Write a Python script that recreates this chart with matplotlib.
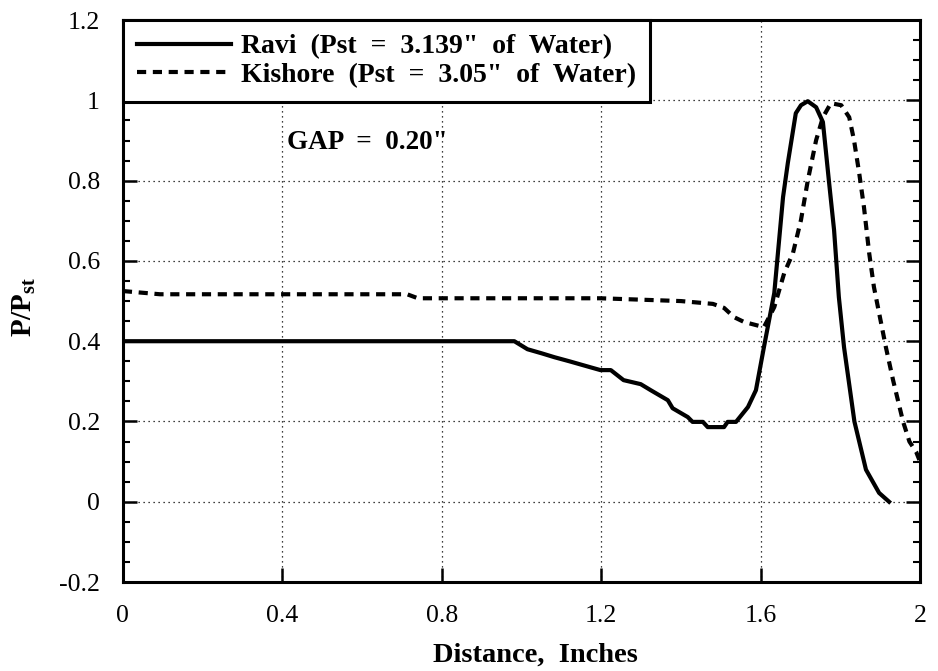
import matplotlib
matplotlib.use("Agg")
import matplotlib.pyplot as plt
from matplotlib.ticker import MultipleLocator

# Ravi (solid)
ravi_x = [0.0, 0.30, 0.60, 0.90, 0.982, 1.015, 1.05, 1.083, 1.12, 1.173, 1.198, 1.224, 1.256,
          1.299, 1.324, 1.367, 1.379, 1.417, 1.429, 1.455, 1.467, 1.508, 1.517, 1.538,
          1.568, 1.588, 1.608, 1.634, 1.656, 1.668, 1.688, 1.701, 1.718, 1.739, 1.756,
          1.771, 1.784, 1.796, 1.809, 1.835, 1.864, 1.897, 1.922]
ravi_y = [0.40, 0.40, 0.40, 0.40, 0.40, 0.38, 0.37, 0.36, 0.35, 0.335, 0.328, 0.328, 0.303,
          0.293, 0.278, 0.253, 0.233, 0.211, 0.199, 0.199, 0.186, 0.186, 0.199, 0.199,
          0.236, 0.278, 0.385, 0.52, 0.759, 0.844, 0.968, 0.988, 0.998, 0.983, 0.946,
          0.80, 0.677, 0.51, 0.385, 0.20, 0.08, 0.022, 0.0]

# Kishore (dotted)
kish_x = [0.0, 0.093, 0.30, 0.50, 0.713, 0.74, 1.0, 1.198, 1.40, 1.48, 1.508, 1.533, 1.558,
          1.608, 1.634, 1.659, 1.681, 1.701, 1.718, 1.739, 1.756, 1.776, 1.802, 1.822,
          1.834, 1.847, 1.859, 1.872, 1.884, 1.897, 1.914, 1.932, 1.957, 1.973, 1.99, 1.998]
kish_y = [0.525, 0.517, 0.517, 0.517, 0.517, 0.507, 0.507, 0.507, 0.50, 0.493, 0.483, 0.46,
          0.448, 0.435, 0.485, 0.57, 0.62, 0.702, 0.80, 0.901, 0.958, 0.993, 0.988, 0.958,
          0.901, 0.819, 0.734, 0.62, 0.535, 0.47, 0.385, 0.303, 0.20, 0.15, 0.124, 0.104]

ravi_label = 'Ravi  (Pst  =  3.139"  of  Water)'
kish_label = 'Kishore  (Pst  =  3.05"  of  Water)'
x_ticks = [0, 0.4, 0.8, 1.2, 1.6, 2]
x_ticklabels = ["0", "0.4", "0.8", "1.2", "1.6", "2"]
y_ticks = [-0.2, 0, 0.2, 0.4, 0.6, 0.8, 1.0, 1.2]
y_ticklabels = ["-0.2", "0", "0.2", "0.4", "0.6", "0.8", "1", "1.2"]

plt.rcParams['font.family'] = ['Liberation Serif', 'DejaVu Serif']
plt.rcParams['mathtext.fontset'] = 'custom'
plt.rcParams['mathtext.rm'] = 'Liberation Serif'
plt.rcParams['mathtext.bf'] = 'Liberation Serif:bold'
plt.rcParams['mathtext.it'] = 'Liberation Serif:italic'

fig = plt.figure(figsize=(9.38, 6.71), dpi=100)
ax = fig.add_axes([0.131, 0.1326, 0.850, 0.8374])

ax.plot(ravi_x, ravi_y, color='black', lw=3.0, label=ravi_label, solid_joinstyle='round')
ax.plot(kish_x, kish_y, color='black', lw=3.0, linestyle=(0, (2.2, 1.6)), label=kish_label)

ax.set_xlim(0, 2)
ax.set_ylim(-0.2, 1.2)
ax.set_xticks(x_ticks)
ax.set_xticklabels(x_ticklabels)
ax.set_yticks(y_ticks)
ax.set_yticklabels(y_ticklabels)
ax.yaxis.set_minor_locator(MultipleLocator(0.05))

ax.tick_params(axis='both', which='major', direction='in', length=10, width=1.8,
               labelsize=18.5, top=True, right=True, pad=16.5)
ax.tick_params(axis='y', which='minor', direction='in', length=5, width=1.5, right=True, left=True)
ax.tick_params(axis='x', which='major', top=False)

for s in ax.spines.values():
    s.set_linewidth(2.2)

ax.grid(True, which='major', linestyle=(0, (1, 3)), color='black', lw=0.9)

ax.set_xlabel('Distance,  Inches', fontsize=20.5, fontweight='bold')
ax.xaxis.set_label_coords(0.517, -0.108)
ax.set_ylabel(r'$\mathbf{P/P_{st}}$', fontsize=21)
ax.yaxis.set_label_coords(-0.106, 0.49)

ax.text(0.412, 0.896, 'GAP  =  0.20"', fontsize=19.5, fontweight='bold', ha='left', va='center')

leg = ax.legend(loc='upper left', bbox_to_anchor=(0.0, 1.0),
                prop={'weight': 'bold', 'size': 20}, frameon=True, fancybox=False,
                handlelength=3.4, borderaxespad=0.0, borderpad=0.5, labelspacing=0.1,
                handletextpad=0.36, edgecolor='black', framealpha=1)
leg.get_frame().set_linewidth(2.2)
leg.set_zorder(5)

fig.savefig('out.png', dpi=100)
